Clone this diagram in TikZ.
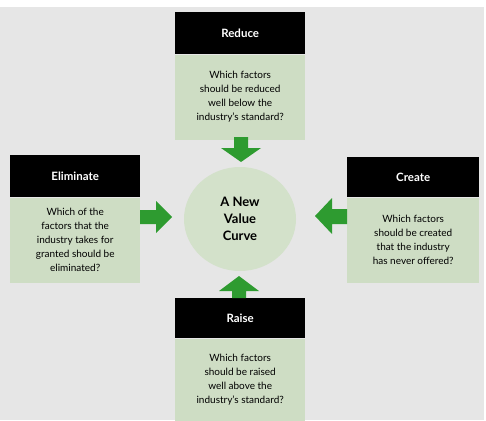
\documentclass[tikz,border=0pt]{standalone}
\usepackage{fontspec}
\setmainfont{Lato}
\usetikzlibrary{shapes.geometric}
\definecolor{bgc}{HTML}{E6E6E6}
\definecolor{bodyc}{HTML}{CEDDC4}
\definecolor{circc}{HTML}{D3E1CA}
\definecolor{arrc}{HTML}{2E9B30}
\begin{document}
\begin{tikzpicture}[x=1pt,y=-1pt,
  hdr/.style={fill=black,text=white,font=\bfseries\fontsize{11.5}{13}\selectfont,inner sep=0pt,anchor=north west,minimum width=130pt,minimum height=42pt},
  bdy/.style={fill=bodyc,text=black,font=\fontsize{10}{14}\selectfont,inner sep=0pt,anchor=north west,minimum width=130pt,align=center},
  blk/.style={fill=arrc}]
\useasboundingbox (0,0) rectangle (486,420);
\fill[white] (0,0) rectangle (486,420);
\fill[bgc] (0,7) rectangle (484,420);
% Reduce
\node[hdr] (rh) at (175,12) {Reduce};
\node[bdy,minimum height=85pt] (rb) at (rh.south west) {Which factors\\should be reduced\\well below the\\industry's standard?};
% Eliminate
\node[hdr] (eh) at (10,155) {Eliminate};
\node[bdy,minimum height=85pt] (eb) at (eh.south west) {Which of the\\factors that the\\industry takes for\\granted should be\\eliminated?};
% Create
\node[hdr,minimum width=132pt,minimum height=40pt] (ch) at (347,157) {Create};
\node[bdy,minimum width=132pt,minimum height=85pt] (cb) at (ch.south west) {Which factors\\should be created\\that the industry\\has never offered?};
% Raise
\node[hdr,minimum height=40pt] (sh) at (175,298) {Raise};
\node[bdy,minimum height=82pt] (sb) at (sh.south west) {Which factors\\should be raised\\well above the\\industry's standard?};
% circle
\node[ellipse,fill=circc,minimum width=112pt,minimum height=104pt,inner sep=0pt,align=center,font=\bfseries\fontsize{13}{17}\selectfont] (nv) at (240,219) {A New\\Value\\Curve};
% arrows
\fill[blk] (234,137) -- (248,137) -- (248,148) -- (261,148) -- (241,162) -- (221,148) -- (234,148) -- cycle;
\fill[blk] (232,298) -- (246,298) -- (246,291) -- (259,291) -- (239,276) -- (219,291) -- (232,291) -- cycle;
\fill[blk] (140,210) -- (140,224) -- (156,224) -- (156,233) -- (172,217) -- (156,201) -- (156,210) -- cycle;
\fill[blk] (347,209) -- (347,224) -- (332,224) -- (332,234) -- (315,216) -- (332,198) -- (332,209) -- cycle;
\end{tikzpicture}
\end{document}
